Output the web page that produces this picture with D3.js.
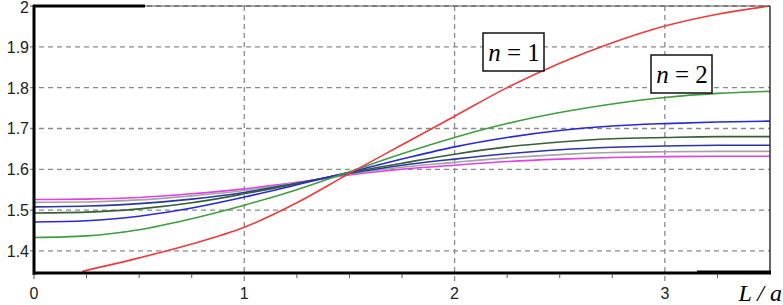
<!DOCTYPE html>
<html>
<head>
    <script src="https://cdn.jsdelivr.net/npm/d3@7/dist/d3.min.js"></script>
    <style>
        html, body {
            padding: 0;
            margin: 0;
            background: white;
        }
    </style>
</head>
<body>

<script>
    var width = 783;
    var height = 305;

    // x positions (L / a) where curves were read
    var xs = [0, 0.25, 0.5, 0.75, 1, 1.25, 1.5, 1.75, 2, 2.25, 2.5, 2.75, 3, 3.25, 3.5];

    // n = 1 starts below the axis, so it has its own x list
    var xsN1 = [0.23, 0.5, 0.75, 1, 1.25, 1.5, 1.75, 2, 2.25, 2.5, 2.75, 3, 3.25, 3.5];
    var n1 = [1.35, 1.383, 1.417, 1.458, 1.518, 1.59, 1.66, 1.73, 1.80, 1.86, 1.91, 1.951, 1.98, 2.0];

    var n2 = [1.433, 1.437, 1.452, 1.479, 1.512, 1.55, 1.594, 1.638, 1.678, 1.712, 1.739, 1.76, 1.776, 1.786, 1.791];
    var n3 = [1.471, 1.474, 1.485, 1.505, 1.532, 1.562, 1.593, 1.625, 1.655, 1.678, 1.695, 1.706, 1.712, 1.716, 1.718];
    var n4 = [1.493, 1.495, 1.503, 1.518, 1.54, 1.565, 1.592, 1.615, 1.637, 1.655, 1.667, 1.675, 1.678, 1.68, 1.68];
    var n5 = [1.508, 1.51, 1.516, 1.527, 1.543, 1.566, 1.59, 1.61, 1.625, 1.638, 1.648, 1.654, 1.657, 1.659, 1.659];
    var n6 = [1.519, 1.52, 1.525, 1.535, 1.548, 1.567, 1.588, 1.605, 1.617, 1.628, 1.636, 1.641, 1.643, 1.644, 1.644];
    var n7 = [1.526, 1.527, 1.531, 1.54, 1.552, 1.568, 1.586, 1.6, 1.61, 1.619, 1.625, 1.629, 1.631, 1.632, 1.632];

    var yTicks = [1.4, 1.5, 1.6, 1.7, 1.8, 1.9, 2];
    var xTicks = [0, 1, 2, 3];
    var xMinor = [0.25, 0.5, 0.75, 1.25, 1.5, 1.75, 2.25, 2.5, 2.75, 3.25];

    var svg = d3.select('body').append('svg')
        .attr('width', width)
        .attr('height', height)
        .style('display', 'block');

    var x = d3.scaleLinear().domain([0, 3.5]).range([34, 770]);
    var y = d3.scaleLinear().domain([1.346, 2.0]).range([273, 6]);

    // grid
    svg.selectAll('.hgrid').data(yTicks).enter().append('line')
        .attr('x1', 30).attr('x2', 770)
        .attr('y1', function (d) { return y(d); })
        .attr('y2', function (d) { return y(d); })
        .style('stroke', '#8a8a8a')
        .style('stroke-width', 1.3)
        .style('stroke-dasharray', '5,4');

    svg.selectAll('.vgrid').data([1, 2, 3]).enter().append('line')
        .attr('x1', function (d) { return x(d); })
        .attr('x2', function (d) { return x(d); })
        .attr('y1', 6).attr('y2', 281)
        .style('stroke', '#8a8a8a')
        .style('stroke-width', 1.3)
        .style('stroke-dasharray', '5,4');

    // curves
    var series = [
        {xv: xsN1, yv: n1, color: '#ee3b3b'},
        {xv: xs, yv: n2, color: '#3f9d3f'},
        {xv: xs, yv: n3, color: '#2828d8'},
        {xv: xs, yv: n4, color: '#365f36'},
        {xv: xs, yv: n5, color: '#2a36a6'},
        {xv: xs, yv: n6, color: '#a3a3a3'},
        {xv: xs, yv: n7, color: '#e23ee2'}
    ];

    var line = d3.line()
        .x(function (d) { return x(d[0]); })
        .y(function (d) { return y(d[1]); })
        .curve(d3.curveMonotoneX);

    series.slice().reverse().forEach(function (s) {
        svg.append('path')
            .attr('d', line(d3.zip(s.xv, s.yv)))
            .style('fill', 'none')
            .style('stroke', s.color)
            .style('stroke-width', 1.6);
    });

    // frame
    svg.append('line').attr('x1', 34).attr('x2', 770).attr('y1', 6).attr('y2', 6)
        .style('stroke', '#555').style('stroke-width', 1);
    svg.append('line').attr('x1', 33).attr('x2', 145).attr('y1', 6).attr('y2', 6)
        .style('stroke', '#000').style('stroke-width', 3);
    svg.append('line').attr('x1', 770).attr('x2', 770).attr('y1', 6).attr('y2', 274)
        .style('stroke', '#333').style('stroke-width', 1.5);
    svg.append('line').attr('x1', 34).attr('x2', 34).attr('y1', 5).attr('y2', 275)
        .style('stroke', '#000').style('stroke-width', 3);
    svg.append('line').attr('x1', 33).attr('x2', 771).attr('y1', 273).attr('y2', 273)
        .style('stroke', '#000').style('stroke-width', 3);
    svg.append('line').attr('x1', 697).attr('x2', 771).attr('y1', 272).attr('y2', 272)
        .style('stroke', '#000').style('stroke-width', 3);

    // minor ticks
    svg.selectAll('.minor').data(xMinor).enter().append('line')
        .attr('x1', function (d) { return x(d); })
        .attr('x2', function (d) { return x(d); })
        .attr('y1', 274).attr('y2', 278)
        .style('stroke', '#555')
        .style('stroke-width', 1);
    svg.append('line').attr('x1', x(0)).attr('x2', x(0)).attr('y1', 274).attr('y2', 279)
        .style('stroke', '#555');

    // tick labels
    svg.selectAll('.ylab').data(yTicks).enter().append('text')
        .attr('x', 29)
        .attr('y', function (d) { return d === 2 ? 13 : y(d) + 6; })
        .attr('text-anchor', 'end')
        .style('font-family', 'Liberation Sans, Arial, sans-serif')
        .style('font-size', '16px')
        .style('fill', '#222')
        .text(function (d) { return d === 2 ? '2' : d3.format('.1f')(d); });

    svg.selectAll('.xlab').data(xTicks).enter().append('text')
        .attr('x', function (d) { return x(d); })
        .attr('y', 299)
        .attr('text-anchor', 'middle')
        .style('font-family', 'Liberation Sans, Arial, sans-serif')
        .style('font-size', '16px')
        .style('fill', '#222')
        .text(function (d) { return d; });

    svg.append('text')
        .attr('x', 782)
        .attr('y', 301)
        .attr('text-anchor', 'end')
        .style('font-family', 'Liberation Serif, Times New Roman, serif')
        .style('font-style', 'italic')
        .style('font-size', '24px')
        .text('L / a');

    // n labels
    var labels = [
        {text: '1', x0: 483, y0: 33},
        {text: '2', x0: 651, y0: 55}
    ];
    labels.forEach(function (l) {
        svg.append('rect')
            .attr('x', l.x0).attr('y', l.y0)
            .attr('width', 61).attr('height', 38)
            .style('fill', 'white')
            .style('stroke', '#111')
            .style('stroke-width', 1.5);
        var t = svg.append('text')
            .attr('x', l.x0 + 31).attr('y', l.y0 + 28)
            .attr('text-anchor', 'middle')
            .style('font-family', 'Liberation Serif, Times New Roman, serif')
            .style('font-size', '25px');
        t.append('tspan').style('font-style', 'italic').text('n');
        t.append('tspan').text(' = ' + l.text);
    });
</script>
</body>
</html>
